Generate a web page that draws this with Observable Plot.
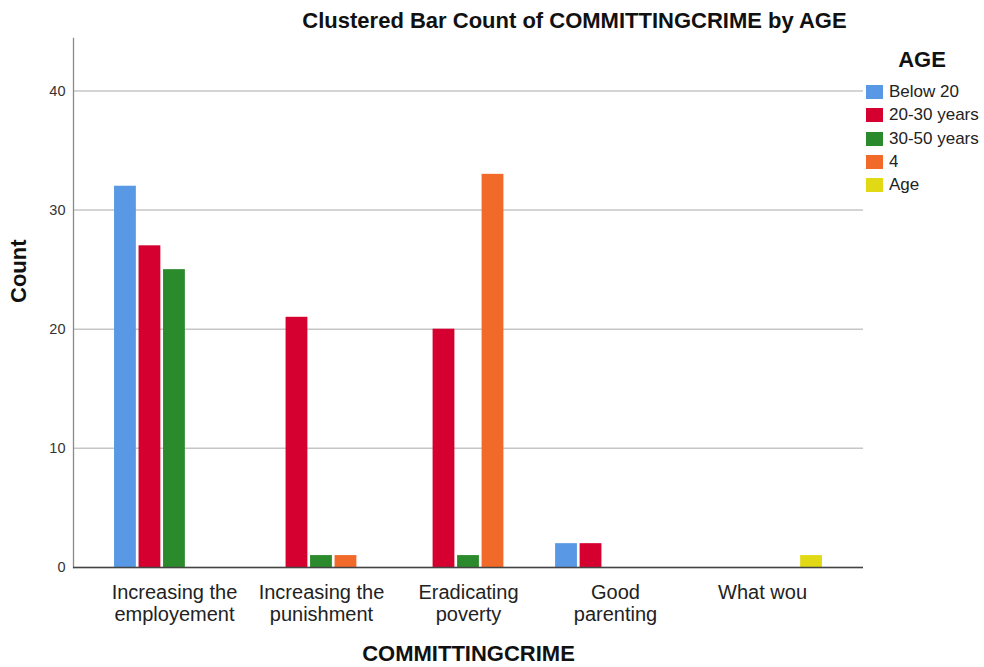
<!DOCTYPE html>
<html>
<head>
<meta charset="utf-8">
<script src="https://cdn.jsdelivr.net/npm/d3@7"></script>
<script src="https://cdn.jsdelivr.net/npm/@observablehq/plot@0.6"></script>
<style>
  body { margin: 0; background: #fff; font-family: "Liberation Sans", Arial, sans-serif; }
  #wrap { position: relative; width: 984px; height: 667px; overflow: hidden; background: #fff; }
  #legend { position: absolute; left: 866px; top: 80.5px; }
  #legend .lg-swatch { padding-bottom: 0 !important; height: 23.3px; display: flex; align-items: center; }
  #legend .lg-swatch svg { margin-right: 6px !important; }
  #legend .lg-swatch-label, #legend .lg-swatch > :not(svg) { color: #222; }
</style>
</head>
<body>
<div id="wrap"></div>
<script>
// ---- data ----
const categories = ["Increasing the employement", "Increasing the punishment", "Eradicating poverty", "Good parenting", "What wou"];
const categoryLabels = ["Increasing the\nemployement", "Increasing the\npunishment", "Eradicating\npoverty", "Good\nparenting", "What wou"];
const ages = ["Below 20", "20-30 years", "30-50 years", "4", "Age"];
const ageColors = ["#5898e4", "#d5002f", "#2b8a2b", "#f26a29", "#e1d914"];
const countsBelow20 = [32, 0, 0, 2, 0];
const counts20to30 = [27, 21, 20, 2, 0];
const counts30to50 = [25, 1, 1, 0, 0];
const counts4 = [0, 1, 33, 0, 0];
const countsAge = [0, 0, 0, 0, 1];
const yTicks = [0, 10, 20, 30, 40];
const yMax = 44.4;

// ---- build table ----
const series = [countsBelow20, counts20to30, counts30to50, counts4, countsAge];
const SEP = "|";
const key = (c, a) => c + SEP + a;
const domain = [];
categories.forEach((c, i) => { domain.push("gap" + i); ages.forEach(a => domain.push(key(c, a))); });
domain.push("gap" + categories.length);
const rows = [];
categories.forEach((c, ci) => ages.forEach((a, ai) => {
  const v = series[ai][ci];
  if (v > 0) rows.push({category: c, age: a, count: v});
}));
const labelOf = new Map(categories.map((c, i) => [key(c, ages[2]), categoryLabels[i]]));
const font = "Liberation Sans, Arial, sans-serif";

const chart = Plot.plot({
  width: 984,
  height: 667,
  marginTop: 38,
  marginBottom: 100,
  marginLeft: 73,
  marginRight: 121,
  style: {fontFamily: font, background: "transparent", color: "#222"},
  x: {domain, paddingInner: 0.11, paddingOuter: 0.675, round: false},
  y: {domain: [0, yMax]},
  color: {domain: ages, range: ageColors},
  marks: [
    Plot.gridY(yTicks, {stroke: "#c6c6c6", strokeOpacity: 1, strokeWidth: 1.5}),
    Plot.barY(rows, {x: d => key(d.category, d.age), y: "count", fill: "age"}),
    Plot.frame({anchor: "left", stroke: "#8a8a8a", strokeWidth: 1.3}),
    Plot.ruleY([0], {stroke: "#444", strokeWidth: 1.5}),
    Plot.axisY(yTicks, {tickSize: 0, tickPadding: 8, fontSize: 14.5, fill: "#333", label: null}),
    Plot.axisX(categories.map(c => key(c, ages[2])), {
      tickSize: 0, tickPadding: 16, fontSize: 20, lineHeight: 1.1, fill: "#222",
      tickFormat: k => labelOf.get(k), label: null
    }),
    Plot.text(["Clustered Bar Count of COMMITTINGCRIME by AGE"], {
      frameAnchor: "top", dx: 106, dy: -18, fontSize: 22, fontWeight: "bold", fill: "#111", lineAnchor: "middle"
    }),
    Plot.text(["COMMITTINGCRIME"], {
      frameAnchor: "bottom", dy: 86, fontSize: 22, fontWeight: "bold", fill: "#111", lineAnchor: "middle"
    }),
    Plot.text(["Count"], {
      frameAnchor: "left", dx: -55, rotate: -90, fontSize: 22, fontWeight: "bold", fill: "#111", lineAnchor: "middle"
    }),
    Plot.text(["AGE"], {
      frameAnchor: "top-right", dx: 58.5, dy: 21.6, fontSize: 22, fontWeight: "bold", fill: "#111", lineAnchor: "middle", textAnchor: "middle"
    })
  ]
});
chart.style.overflow = "visible";
const wrap = document.getElementById("wrap");
wrap.appendChild(chart);

const legend = Plot.legend({
  color: {domain: ages, range: ageColors},
  legend: "swatches",
  columns: 1,
  swatchWidth: 17,
  swatchHeight: 14,
  className: "lg",
  style: {fontSize: "17px", fontFamily: font, color: "#222", margin: "0"}
});
const lgWrap = document.createElement("div");
lgWrap.id = "legend";
lgWrap.appendChild(legend);
wrap.appendChild(lgWrap);
</script>
</body>
</html>
